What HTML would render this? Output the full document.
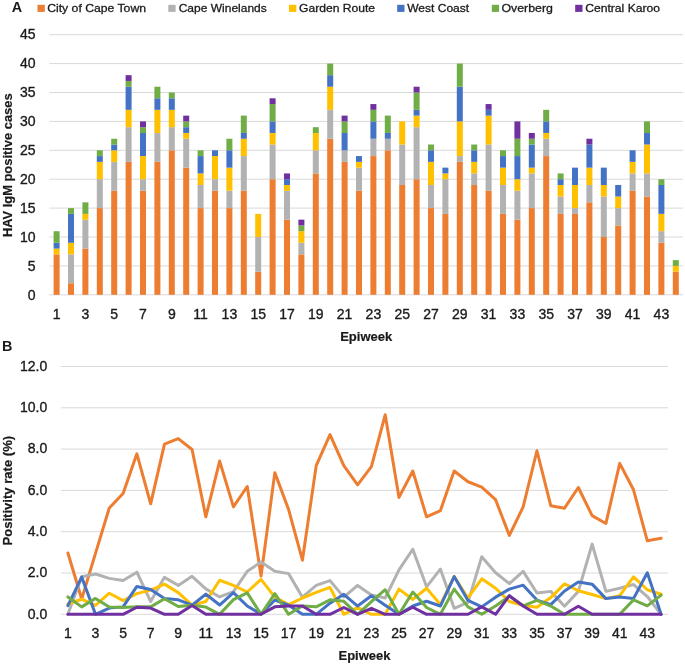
<!DOCTYPE html>
<html><head><meta charset="utf-8"><title>Chart</title><style>
html,body{margin:0;padding:0;background:#fff;}
body{width:685px;height:665px;overflow:hidden;}
svg{display:block;will-change:transform;}
text{font-family:"Liberation Sans",sans-serif;fill:#1a1a1a;}
.t{font-size:14px;stroke:#1a1a1a;stroke-width:0.35px;}
.g{font-size:11.6px;stroke:#1a1a1a;stroke-width:0.3px;}
.b{font-size:13px;font-weight:bold;stroke:#1a1a1a;stroke-width:0.2px;}
.L{font-size:14.4px;font-weight:bold;}
</style></head><body>
<svg width="685" height="665" viewBox="0 0 685 665">
<rect width="685" height="665" fill="#fff"/>
<path d="M49.40 294.80H683.00 M49.40 265.90H683.00 M49.40 237.00H683.00 M49.40 208.10H683.00 M49.40 179.20H683.00 M49.40 150.30H683.00 M49.40 121.40H683.00 M49.40 92.50H683.00 M49.40 63.60H683.00 M49.40 34.70H683.00" stroke="#D9D9D9" stroke-width="1" fill="none"/>
<rect x="53.60" y="254.34" width="6.00" height="40.46" fill="#ED7D31"/>
<rect x="53.60" y="248.56" width="6.00" height="5.78" fill="#FFC000"/>
<rect x="53.60" y="242.78" width="6.00" height="5.78" fill="#4472C4"/>
<rect x="53.60" y="231.22" width="6.00" height="11.56" fill="#70AD47"/>
<rect x="68.00" y="283.24" width="6.00" height="11.56" fill="#ED7D31"/>
<rect x="68.00" y="254.34" width="6.00" height="28.90" fill="#B2B2B2"/>
<rect x="68.00" y="242.78" width="6.00" height="11.56" fill="#FFC000"/>
<rect x="68.00" y="213.88" width="6.00" height="28.90" fill="#4472C4"/>
<rect x="68.00" y="208.10" width="6.00" height="5.78" fill="#70AD47"/>
<rect x="82.40" y="248.56" width="6.00" height="46.24" fill="#ED7D31"/>
<rect x="82.40" y="219.66" width="6.00" height="28.90" fill="#B2B2B2"/>
<rect x="82.40" y="213.88" width="6.00" height="5.78" fill="#FFC000"/>
<rect x="82.40" y="202.32" width="6.00" height="11.56" fill="#70AD47"/>
<rect x="96.80" y="208.10" width="6.00" height="86.70" fill="#ED7D31"/>
<rect x="96.80" y="179.20" width="6.00" height="28.90" fill="#B2B2B2"/>
<rect x="96.80" y="161.86" width="6.00" height="17.34" fill="#FFC000"/>
<rect x="96.80" y="156.08" width="6.00" height="5.78" fill="#4472C4"/>
<rect x="96.80" y="150.30" width="6.00" height="5.78" fill="#70AD47"/>
<rect x="111.20" y="190.76" width="6.00" height="104.04" fill="#ED7D31"/>
<rect x="111.20" y="161.86" width="6.00" height="28.90" fill="#B2B2B2"/>
<rect x="111.20" y="150.30" width="6.00" height="11.56" fill="#FFC000"/>
<rect x="111.20" y="144.52" width="6.00" height="5.78" fill="#4472C4"/>
<rect x="111.20" y="138.74" width="6.00" height="5.78" fill="#70AD47"/>
<rect x="125.60" y="161.86" width="6.00" height="132.94" fill="#ED7D31"/>
<rect x="125.60" y="127.18" width="6.00" height="34.68" fill="#B2B2B2"/>
<rect x="125.60" y="109.84" width="6.00" height="17.34" fill="#FFC000"/>
<rect x="125.60" y="86.72" width="6.00" height="23.12" fill="#4472C4"/>
<rect x="125.60" y="80.94" width="6.00" height="5.78" fill="#70AD47"/>
<rect x="125.60" y="75.16" width="6.00" height="5.78" fill="#7030A0"/>
<rect x="140.00" y="190.76" width="6.00" height="104.04" fill="#ED7D31"/>
<rect x="140.00" y="179.20" width="6.00" height="11.56" fill="#B2B2B2"/>
<rect x="140.00" y="156.08" width="6.00" height="23.12" fill="#FFC000"/>
<rect x="140.00" y="132.96" width="6.00" height="23.12" fill="#4472C4"/>
<rect x="140.00" y="127.18" width="6.00" height="5.78" fill="#70AD47"/>
<rect x="140.00" y="121.40" width="6.00" height="5.78" fill="#7030A0"/>
<rect x="154.40" y="161.86" width="6.00" height="132.94" fill="#ED7D31"/>
<rect x="154.40" y="132.96" width="6.00" height="28.90" fill="#B2B2B2"/>
<rect x="154.40" y="109.84" width="6.00" height="23.12" fill="#FFC000"/>
<rect x="154.40" y="98.28" width="6.00" height="11.56" fill="#4472C4"/>
<rect x="154.40" y="86.72" width="6.00" height="11.56" fill="#70AD47"/>
<rect x="168.80" y="150.30" width="6.00" height="144.50" fill="#ED7D31"/>
<rect x="168.80" y="127.18" width="6.00" height="23.12" fill="#B2B2B2"/>
<rect x="168.80" y="109.84" width="6.00" height="17.34" fill="#FFC000"/>
<rect x="168.80" y="98.28" width="6.00" height="11.56" fill="#4472C4"/>
<rect x="168.80" y="92.50" width="6.00" height="5.78" fill="#70AD47"/>
<rect x="183.20" y="167.64" width="6.00" height="127.16" fill="#ED7D31"/>
<rect x="183.20" y="138.74" width="6.00" height="28.90" fill="#B2B2B2"/>
<rect x="183.20" y="132.96" width="6.00" height="5.78" fill="#FFC000"/>
<rect x="183.20" y="127.18" width="6.00" height="5.78" fill="#4472C4"/>
<rect x="183.20" y="121.40" width="6.00" height="5.78" fill="#70AD47"/>
<rect x="183.20" y="115.62" width="6.00" height="5.78" fill="#7030A0"/>
<rect x="197.60" y="208.10" width="6.00" height="86.70" fill="#ED7D31"/>
<rect x="197.60" y="184.98" width="6.00" height="23.12" fill="#B2B2B2"/>
<rect x="197.60" y="173.42" width="6.00" height="11.56" fill="#FFC000"/>
<rect x="197.60" y="156.08" width="6.00" height="17.34" fill="#4472C4"/>
<rect x="197.60" y="150.30" width="6.00" height="5.78" fill="#70AD47"/>
<rect x="212.00" y="190.76" width="6.00" height="104.04" fill="#ED7D31"/>
<rect x="212.00" y="179.20" width="6.00" height="11.56" fill="#B2B2B2"/>
<rect x="212.00" y="156.08" width="6.00" height="23.12" fill="#FFC000"/>
<rect x="212.00" y="150.30" width="6.00" height="5.78" fill="#4472C4"/>
<rect x="226.40" y="208.10" width="6.00" height="86.70" fill="#ED7D31"/>
<rect x="226.40" y="190.76" width="6.00" height="17.34" fill="#B2B2B2"/>
<rect x="226.40" y="167.64" width="6.00" height="23.12" fill="#FFC000"/>
<rect x="226.40" y="150.30" width="6.00" height="17.34" fill="#4472C4"/>
<rect x="226.40" y="138.74" width="6.00" height="11.56" fill="#70AD47"/>
<rect x="240.80" y="190.76" width="6.00" height="104.04" fill="#ED7D31"/>
<rect x="240.80" y="156.08" width="6.00" height="34.68" fill="#B2B2B2"/>
<rect x="240.80" y="138.74" width="6.00" height="17.34" fill="#FFC000"/>
<rect x="240.80" y="132.96" width="6.00" height="5.78" fill="#4472C4"/>
<rect x="240.80" y="115.62" width="6.00" height="17.34" fill="#70AD47"/>
<rect x="255.20" y="271.68" width="6.00" height="23.12" fill="#ED7D31"/>
<rect x="255.20" y="237.00" width="6.00" height="34.68" fill="#B2B2B2"/>
<rect x="255.20" y="213.88" width="6.00" height="23.12" fill="#FFC000"/>
<rect x="269.60" y="179.20" width="6.00" height="115.60" fill="#ED7D31"/>
<rect x="269.60" y="144.52" width="6.00" height="34.68" fill="#B2B2B2"/>
<rect x="269.60" y="132.96" width="6.00" height="11.56" fill="#FFC000"/>
<rect x="269.60" y="121.40" width="6.00" height="11.56" fill="#4472C4"/>
<rect x="269.60" y="104.06" width="6.00" height="17.34" fill="#70AD47"/>
<rect x="269.60" y="98.28" width="6.00" height="5.78" fill="#7030A0"/>
<rect x="284.00" y="219.66" width="6.00" height="75.14" fill="#ED7D31"/>
<rect x="284.00" y="190.76" width="6.00" height="28.90" fill="#B2B2B2"/>
<rect x="284.00" y="184.98" width="6.00" height="5.78" fill="#FFC000"/>
<rect x="284.00" y="179.20" width="6.00" height="5.78" fill="#4472C4"/>
<rect x="284.00" y="173.42" width="6.00" height="5.78" fill="#7030A0"/>
<rect x="298.40" y="254.34" width="6.00" height="40.46" fill="#ED7D31"/>
<rect x="298.40" y="242.78" width="6.00" height="11.56" fill="#B2B2B2"/>
<rect x="298.40" y="231.22" width="6.00" height="11.56" fill="#FFC000"/>
<rect x="298.40" y="225.44" width="6.00" height="5.78" fill="#70AD47"/>
<rect x="298.40" y="219.66" width="6.00" height="5.78" fill="#7030A0"/>
<rect x="312.80" y="173.42" width="6.00" height="121.38" fill="#ED7D31"/>
<rect x="312.80" y="150.30" width="6.00" height="23.12" fill="#B2B2B2"/>
<rect x="312.80" y="132.96" width="6.00" height="17.34" fill="#FFC000"/>
<rect x="312.80" y="127.18" width="6.00" height="5.78" fill="#70AD47"/>
<rect x="327.20" y="138.74" width="6.00" height="156.06" fill="#ED7D31"/>
<rect x="327.20" y="109.84" width="6.00" height="28.90" fill="#B2B2B2"/>
<rect x="327.20" y="86.72" width="6.00" height="23.12" fill="#FFC000"/>
<rect x="327.20" y="75.16" width="6.00" height="11.56" fill="#4472C4"/>
<rect x="327.20" y="63.60" width="6.00" height="11.56" fill="#70AD47"/>
<rect x="341.60" y="161.86" width="6.00" height="132.94" fill="#ED7D31"/>
<rect x="341.60" y="150.30" width="6.00" height="11.56" fill="#B2B2B2"/>
<rect x="341.60" y="132.96" width="6.00" height="17.34" fill="#4472C4"/>
<rect x="341.60" y="121.40" width="6.00" height="11.56" fill="#70AD47"/>
<rect x="341.60" y="115.62" width="6.00" height="5.78" fill="#7030A0"/>
<rect x="356.00" y="190.76" width="6.00" height="104.04" fill="#ED7D31"/>
<rect x="356.00" y="167.64" width="6.00" height="23.12" fill="#B2B2B2"/>
<rect x="356.00" y="161.86" width="6.00" height="5.78" fill="#FFC000"/>
<rect x="356.00" y="156.08" width="6.00" height="5.78" fill="#4472C4"/>
<rect x="370.40" y="156.08" width="6.00" height="138.72" fill="#ED7D31"/>
<rect x="370.40" y="138.74" width="6.00" height="17.34" fill="#B2B2B2"/>
<rect x="370.40" y="121.40" width="6.00" height="17.34" fill="#4472C4"/>
<rect x="370.40" y="109.84" width="6.00" height="11.56" fill="#70AD47"/>
<rect x="370.40" y="104.06" width="6.00" height="5.78" fill="#7030A0"/>
<rect x="384.80" y="150.30" width="6.00" height="144.50" fill="#ED7D31"/>
<rect x="384.80" y="138.74" width="6.00" height="11.56" fill="#B2B2B2"/>
<rect x="384.80" y="132.96" width="6.00" height="5.78" fill="#4472C4"/>
<rect x="384.80" y="115.62" width="6.00" height="17.34" fill="#70AD47"/>
<rect x="399.20" y="184.98" width="6.00" height="109.82" fill="#ED7D31"/>
<rect x="399.20" y="144.52" width="6.00" height="40.46" fill="#B2B2B2"/>
<rect x="399.20" y="121.40" width="6.00" height="23.12" fill="#FFC000"/>
<rect x="413.60" y="179.20" width="6.00" height="115.60" fill="#ED7D31"/>
<rect x="413.60" y="127.18" width="6.00" height="52.02" fill="#B2B2B2"/>
<rect x="413.60" y="115.62" width="6.00" height="11.56" fill="#FFC000"/>
<rect x="413.60" y="109.84" width="6.00" height="5.78" fill="#4472C4"/>
<rect x="413.60" y="92.50" width="6.00" height="17.34" fill="#70AD47"/>
<rect x="413.60" y="86.72" width="6.00" height="5.78" fill="#7030A0"/>
<rect x="428.00" y="208.10" width="6.00" height="86.70" fill="#ED7D31"/>
<rect x="428.00" y="184.98" width="6.00" height="23.12" fill="#B2B2B2"/>
<rect x="428.00" y="161.86" width="6.00" height="23.12" fill="#FFC000"/>
<rect x="428.00" y="150.30" width="6.00" height="11.56" fill="#4472C4"/>
<rect x="428.00" y="144.52" width="6.00" height="5.78" fill="#70AD47"/>
<rect x="442.40" y="213.88" width="6.00" height="80.92" fill="#ED7D31"/>
<rect x="442.40" y="179.20" width="6.00" height="34.68" fill="#B2B2B2"/>
<rect x="442.40" y="173.42" width="6.00" height="5.78" fill="#FFC000"/>
<rect x="442.40" y="167.64" width="6.00" height="5.78" fill="#4472C4"/>
<rect x="456.80" y="161.86" width="6.00" height="132.94" fill="#ED7D31"/>
<rect x="456.80" y="156.08" width="6.00" height="5.78" fill="#B2B2B2"/>
<rect x="456.80" y="121.40" width="6.00" height="34.68" fill="#FFC000"/>
<rect x="456.80" y="86.72" width="6.00" height="34.68" fill="#4472C4"/>
<rect x="456.80" y="63.60" width="6.00" height="23.12" fill="#70AD47"/>
<rect x="471.20" y="184.98" width="6.00" height="109.82" fill="#ED7D31"/>
<rect x="471.20" y="173.42" width="6.00" height="11.56" fill="#B2B2B2"/>
<rect x="471.20" y="161.86" width="6.00" height="11.56" fill="#FFC000"/>
<rect x="471.20" y="150.30" width="6.00" height="11.56" fill="#4472C4"/>
<rect x="471.20" y="144.52" width="6.00" height="5.78" fill="#70AD47"/>
<rect x="485.60" y="190.76" width="6.00" height="104.04" fill="#ED7D31"/>
<rect x="485.60" y="144.52" width="6.00" height="46.24" fill="#B2B2B2"/>
<rect x="485.60" y="115.62" width="6.00" height="28.90" fill="#FFC000"/>
<rect x="485.60" y="109.84" width="6.00" height="5.78" fill="#4472C4"/>
<rect x="485.60" y="104.06" width="6.00" height="5.78" fill="#7030A0"/>
<rect x="500.00" y="213.88" width="6.00" height="80.92" fill="#ED7D31"/>
<rect x="500.00" y="184.98" width="6.00" height="28.90" fill="#B2B2B2"/>
<rect x="500.00" y="167.64" width="6.00" height="17.34" fill="#FFC000"/>
<rect x="500.00" y="156.08" width="6.00" height="11.56" fill="#4472C4"/>
<rect x="500.00" y="150.30" width="6.00" height="5.78" fill="#70AD47"/>
<rect x="514.40" y="219.66" width="6.00" height="75.14" fill="#ED7D31"/>
<rect x="514.40" y="190.76" width="6.00" height="28.90" fill="#B2B2B2"/>
<rect x="514.40" y="179.20" width="6.00" height="11.56" fill="#FFC000"/>
<rect x="514.40" y="156.08" width="6.00" height="23.12" fill="#4472C4"/>
<rect x="514.40" y="138.74" width="6.00" height="17.34" fill="#70AD47"/>
<rect x="514.40" y="121.40" width="6.00" height="17.34" fill="#7030A0"/>
<rect x="528.80" y="208.10" width="6.00" height="86.70" fill="#ED7D31"/>
<rect x="528.80" y="173.42" width="6.00" height="34.68" fill="#B2B2B2"/>
<rect x="528.80" y="167.64" width="6.00" height="5.78" fill="#FFC000"/>
<rect x="528.80" y="144.52" width="6.00" height="23.12" fill="#4472C4"/>
<rect x="528.80" y="138.74" width="6.00" height="5.78" fill="#70AD47"/>
<rect x="528.80" y="132.96" width="6.00" height="5.78" fill="#7030A0"/>
<rect x="543.20" y="156.08" width="6.00" height="138.72" fill="#ED7D31"/>
<rect x="543.20" y="138.74" width="6.00" height="17.34" fill="#B2B2B2"/>
<rect x="543.20" y="132.96" width="6.00" height="5.78" fill="#FFC000"/>
<rect x="543.20" y="121.40" width="6.00" height="11.56" fill="#4472C4"/>
<rect x="543.20" y="109.84" width="6.00" height="11.56" fill="#70AD47"/>
<rect x="557.60" y="213.88" width="6.00" height="80.92" fill="#ED7D31"/>
<rect x="557.60" y="196.54" width="6.00" height="17.34" fill="#B2B2B2"/>
<rect x="557.60" y="184.98" width="6.00" height="11.56" fill="#FFC000"/>
<rect x="557.60" y="179.20" width="6.00" height="5.78" fill="#4472C4"/>
<rect x="557.60" y="173.42" width="6.00" height="5.78" fill="#70AD47"/>
<rect x="572.00" y="213.88" width="6.00" height="80.92" fill="#ED7D31"/>
<rect x="572.00" y="208.10" width="6.00" height="5.78" fill="#B2B2B2"/>
<rect x="572.00" y="184.98" width="6.00" height="23.12" fill="#FFC000"/>
<rect x="572.00" y="167.64" width="6.00" height="17.34" fill="#4472C4"/>
<rect x="586.40" y="202.32" width="6.00" height="92.48" fill="#ED7D31"/>
<rect x="586.40" y="184.98" width="6.00" height="17.34" fill="#B2B2B2"/>
<rect x="586.40" y="167.64" width="6.00" height="17.34" fill="#FFC000"/>
<rect x="586.40" y="144.52" width="6.00" height="23.12" fill="#4472C4"/>
<rect x="586.40" y="138.74" width="6.00" height="5.78" fill="#7030A0"/>
<rect x="600.80" y="237.00" width="6.00" height="57.80" fill="#ED7D31"/>
<rect x="600.80" y="196.54" width="6.00" height="40.46" fill="#B2B2B2"/>
<rect x="600.80" y="184.98" width="6.00" height="11.56" fill="#FFC000"/>
<rect x="600.80" y="167.64" width="6.00" height="17.34" fill="#4472C4"/>
<rect x="615.20" y="225.44" width="6.00" height="69.36" fill="#ED7D31"/>
<rect x="615.20" y="208.10" width="6.00" height="17.34" fill="#B2B2B2"/>
<rect x="615.20" y="196.54" width="6.00" height="11.56" fill="#FFC000"/>
<rect x="615.20" y="184.98" width="6.00" height="11.56" fill="#4472C4"/>
<rect x="629.60" y="190.76" width="6.00" height="104.04" fill="#ED7D31"/>
<rect x="629.60" y="173.42" width="6.00" height="17.34" fill="#B2B2B2"/>
<rect x="629.60" y="161.86" width="6.00" height="11.56" fill="#FFC000"/>
<rect x="629.60" y="150.30" width="6.00" height="11.56" fill="#4472C4"/>
<rect x="644.00" y="196.54" width="6.00" height="98.26" fill="#ED7D31"/>
<rect x="644.00" y="173.42" width="6.00" height="23.12" fill="#B2B2B2"/>
<rect x="644.00" y="144.52" width="6.00" height="28.90" fill="#FFC000"/>
<rect x="644.00" y="132.96" width="6.00" height="11.56" fill="#4472C4"/>
<rect x="644.00" y="121.40" width="6.00" height="11.56" fill="#70AD47"/>
<rect x="658.40" y="242.78" width="6.00" height="52.02" fill="#ED7D31"/>
<rect x="658.40" y="231.22" width="6.00" height="11.56" fill="#B2B2B2"/>
<rect x="658.40" y="213.88" width="6.00" height="17.34" fill="#FFC000"/>
<rect x="658.40" y="184.98" width="6.00" height="28.90" fill="#4472C4"/>
<rect x="658.40" y="179.20" width="6.00" height="5.78" fill="#70AD47"/>
<rect x="672.80" y="271.68" width="6.00" height="23.12" fill="#ED7D31"/>
<rect x="672.80" y="265.90" width="6.00" height="5.78" fill="#FFC000"/>
<rect x="672.80" y="260.12" width="6.00" height="5.78" fill="#70AD47"/>
<text class="t" x="35.5" y="299.51" text-anchor="end">0</text>
<text class="t" x="35.5" y="270.61" text-anchor="end">5</text>
<text class="t" x="35.5" y="241.71" text-anchor="end">10</text>
<text class="t" x="35.5" y="212.81" text-anchor="end">15</text>
<text class="t" x="35.5" y="183.91" text-anchor="end">20</text>
<text class="t" x="35.5" y="155.01" text-anchor="end">25</text>
<text class="t" x="35.5" y="126.11" text-anchor="end">30</text>
<text class="t" x="35.5" y="97.21" text-anchor="end">35</text>
<text class="t" x="35.5" y="68.31" text-anchor="end">40</text>
<text class="t" x="35.5" y="39.41" text-anchor="end">45</text>
<text class="t" x="56.60" y="319.11" text-anchor="middle">1</text>
<text class="t" x="85.40" y="319.11" text-anchor="middle">3</text>
<text class="t" x="114.20" y="319.11" text-anchor="middle">5</text>
<text class="t" x="143.00" y="319.11" text-anchor="middle">7</text>
<text class="t" x="171.80" y="319.11" text-anchor="middle">9</text>
<text class="t" x="200.60" y="319.11" text-anchor="middle">11</text>
<text class="t" x="229.40" y="319.11" text-anchor="middle">13</text>
<text class="t" x="258.20" y="319.11" text-anchor="middle">15</text>
<text class="t" x="287.00" y="319.11" text-anchor="middle">17</text>
<text class="t" x="315.80" y="319.11" text-anchor="middle">19</text>
<text class="t" x="344.60" y="319.11" text-anchor="middle">21</text>
<text class="t" x="373.40" y="319.11" text-anchor="middle">23</text>
<text class="t" x="402.20" y="319.11" text-anchor="middle">25</text>
<text class="t" x="431.00" y="319.11" text-anchor="middle">27</text>
<text class="t" x="459.80" y="319.11" text-anchor="middle">29</text>
<text class="t" x="488.60" y="319.11" text-anchor="middle">31</text>
<text class="t" x="517.40" y="319.11" text-anchor="middle">33</text>
<text class="t" x="546.20" y="319.11" text-anchor="middle">35</text>
<text class="t" x="575.00" y="319.11" text-anchor="middle">37</text>
<text class="t" x="603.80" y="319.11" text-anchor="middle">39</text>
<text class="t" x="632.60" y="319.11" text-anchor="middle">41</text>
<text class="t" x="661.40" y="319.11" text-anchor="middle">43</text>
<path d="M61.00 614.30H668.00 M61.00 573.00H668.00 M61.00 531.70H668.00 M61.00 490.40H668.00 M61.00 449.10H668.00 M61.00 407.80H668.00 M61.00 366.50H668.00" stroke="#D9D9D9" stroke-width="1" fill="none"/>
<polyline points="67.90,552.97 81.69,599.02 95.49,553.38 109.28,507.95 123.08,493.50 136.88,453.85 150.67,503.82 164.47,444.14 178.26,438.57 192.06,449.51 205.85,516.83 219.65,461.08 233.44,506.92 247.24,486.48 261.03,576.10 274.83,472.64 288.62,509.60 302.42,560.20 316.22,465.62 330.01,434.64 343.81,465.62 357.60,484.82 371.40,466.65 385.19,414.82 398.99,497.42 412.78,470.99 426.58,516.83 440.38,510.64 454.17,470.99 467.97,481.73 481.76,487.10 495.56,499.69 509.35,535.42 523.15,506.92 536.94,450.75 550.74,505.68 564.53,508.16 578.33,487.51 592.12,515.59 605.92,523.44 619.72,463.35 633.51,489.78 647.31,540.79 661.10,538.31" fill="none" stroke="#ED7D31" stroke-width="3.0" stroke-linejoin="round" stroke-linecap="round"/>
<polyline points="67.90,614.30 81.69,576.72 95.49,574.03 109.28,578.37 123.08,580.43 136.88,572.17 150.67,601.50 164.47,577.34 178.26,585.39 192.06,576.30 205.85,588.90 219.65,596.95 233.44,591.58 247.24,571.35 261.03,562.06 274.83,571.35 288.62,573.62 302.42,597.16 316.22,585.39 330.01,580.64 343.81,597.16 357.60,585.39 371.40,594.89 385.19,597.99 398.99,569.90 412.78,549.25 426.58,586.84 440.38,569.08 454.17,608.31 467.97,602.32 481.76,556.69 495.56,572.79 509.35,583.53 523.15,571.35 536.94,593.03 550.74,591.38 564.53,606.25 578.33,591.38 592.12,544.09 605.92,591.38 619.72,588.28 633.51,584.56 647.31,596.54 661.10,614.30" fill="none" stroke="#B2B2B2" stroke-width="3.0" stroke-linejoin="round" stroke-linecap="round"/>
<polyline points="67.90,603.97 81.69,599.23 95.49,605.42 109.28,593.24 123.08,600.67 136.88,593.65 150.67,590.14 164.47,584.15 178.26,592.62 192.06,605.21 205.85,601.50 219.65,580.23 233.44,585.39 247.24,592.00 261.03,579.40 274.83,597.16 288.62,604.59 302.42,597.99 316.22,592.41 330.01,587.45 343.81,614.30 357.60,607.49 371.40,614.30 385.19,614.30 398.99,589.11 412.78,599.43 426.58,588.28 440.38,604.59 454.17,576.51 467.97,597.99 481.76,578.78 495.56,588.28 509.35,601.50 523.15,605.21 536.94,607.28 550.74,597.57 564.53,583.94 578.33,590.76 592.12,594.48 605.92,598.61 619.72,595.71 633.51,576.92 647.31,589.73 661.10,594.27" fill="none" stroke="#FFC000" stroke-width="3.0" stroke-linejoin="round" stroke-linecap="round"/>
<polyline points="67.90,605.63 81.69,577.13 95.49,614.30 109.28,608.10 123.08,606.87 136.88,586.42 150.67,589.52 164.47,598.40 178.26,599.84 192.06,605.21 205.85,594.06 219.65,605.01 233.44,592.62 247.24,606.04 261.03,614.30 274.83,600.05 288.62,605.21 302.42,614.30 316.22,614.30 330.01,603.15 343.81,594.27 357.60,606.04 371.40,595.71 385.19,605.21 398.99,614.30 412.78,606.04 426.58,601.29 440.38,606.04 454.17,576.51 467.97,600.46 481.76,606.87 495.56,597.16 509.35,589.11 523.15,585.18 536.94,600.05 550.74,604.59 564.53,590.97 578.33,582.09 592.12,584.15 605.92,598.61 619.72,596.95 633.51,598.61 647.31,572.79 661.10,614.30" fill="none" stroke="#4472C4" stroke-width="3.0" stroke-linejoin="round" stroke-linecap="round"/>
<polyline points="67.90,596.95 81.69,606.87 95.49,598.40 109.28,607.07 123.08,607.49 136.88,606.87 150.67,606.87 164.47,598.81 178.26,606.45 192.06,605.21 205.85,607.07 219.65,614.30 233.44,599.64 247.24,592.82 261.03,614.30 274.83,593.65 288.62,614.30 302.42,606.04 316.22,606.87 330.01,599.84 343.81,601.29 357.60,614.30 371.40,601.70 385.19,589.73 398.99,614.30 412.78,592.00 426.58,607.49 440.38,614.30 454.17,589.11 467.97,606.87 481.76,614.30 495.56,606.04 509.35,596.13 523.15,605.83 536.94,600.46 550.74,606.04 564.53,614.30 578.33,614.30 592.12,614.30 605.92,614.30 619.72,614.30 633.51,599.84 647.31,605.83 661.10,595.10" fill="none" stroke="#70AD47" stroke-width="3.0" stroke-linejoin="round" stroke-linecap="round"/>
<polyline points="67.90,614.30 81.69,614.30 95.49,614.30 109.28,614.30 123.08,614.30 136.88,607.28 150.67,608.10 164.47,614.30 178.26,614.30 192.06,605.42 205.85,614.30 219.65,614.30 233.44,614.30 247.24,614.30 261.03,614.30 274.83,606.87 288.62,606.04 302.42,606.04 316.22,614.30 330.01,614.30 343.81,607.49 357.60,614.30 371.40,608.31 385.19,614.30 398.99,614.30 412.78,607.28 426.58,614.30 440.38,614.30 454.17,614.30 467.97,614.30 481.76,606.87 495.56,614.30 509.35,595.71 523.15,606.04 536.94,614.30 550.74,614.30 564.53,614.30 578.33,606.25 592.12,614.30 605.92,614.30 619.72,614.30 633.51,614.30 647.31,614.30 661.10,614.30" fill="none" stroke="#7030A0" stroke-width="3.0" stroke-linejoin="round" stroke-linecap="round"/>
<text class="t" x="47.3" y="618.61" text-anchor="end">0.0</text>
<text class="t" x="47.3" y="577.31" text-anchor="end">2.0</text>
<text class="t" x="47.3" y="536.01" text-anchor="end">4.0</text>
<text class="t" x="47.3" y="494.71" text-anchor="end">6.0</text>
<text class="t" x="47.3" y="453.41" text-anchor="end">8.0</text>
<text class="t" x="47.3" y="412.11" text-anchor="end">10.0</text>
<text class="t" x="47.3" y="370.81" text-anchor="end">12.0</text>
<text class="t" x="67.90" y="638.41" text-anchor="middle">1</text>
<text class="t" x="95.49" y="638.41" text-anchor="middle">3</text>
<text class="t" x="123.08" y="638.41" text-anchor="middle">5</text>
<text class="t" x="150.67" y="638.41" text-anchor="middle">7</text>
<text class="t" x="178.26" y="638.41" text-anchor="middle">9</text>
<text class="t" x="205.85" y="638.41" text-anchor="middle">11</text>
<text class="t" x="233.44" y="638.41" text-anchor="middle">13</text>
<text class="t" x="261.03" y="638.41" text-anchor="middle">15</text>
<text class="t" x="288.62" y="638.41" text-anchor="middle">17</text>
<text class="t" x="316.22" y="638.41" text-anchor="middle">19</text>
<text class="t" x="343.81" y="638.41" text-anchor="middle">21</text>
<text class="t" x="371.40" y="638.41" text-anchor="middle">23</text>
<text class="t" x="398.99" y="638.41" text-anchor="middle">25</text>
<text class="t" x="426.58" y="638.41" text-anchor="middle">27</text>
<text class="t" x="454.17" y="638.41" text-anchor="middle">29</text>
<text class="t" x="481.76" y="638.41" text-anchor="middle">31</text>
<text class="t" x="509.35" y="638.41" text-anchor="middle">33</text>
<text class="t" x="536.94" y="638.41" text-anchor="middle">35</text>
<text class="t" x="564.53" y="638.41" text-anchor="middle">37</text>
<text class="t" x="592.12" y="638.41" text-anchor="middle">39</text>
<text class="t" x="619.72" y="638.41" text-anchor="middle">41</text>
<text class="t" x="647.31" y="638.41" text-anchor="middle">43</text>
<text class="b" x="366.2" y="340.6" text-anchor="middle">Epiweek</text>
<text class="b" x="364.5" y="659.7" text-anchor="middle">Epiweek</text>
<text class="b" transform="translate(12.2 165.25) rotate(-90)" text-anchor="middle" textLength="143.6" lengthAdjust="spacingAndGlyphs">HAV IgM positive cases</text>
<text class="b" transform="translate(12.1 490.7) rotate(-90)" text-anchor="middle" textLength="109.7" lengthAdjust="spacingAndGlyphs">Positivity rate (%)</text>
<text class="L" x="11.7" y="12.1">A</text>
<text class="L" x="2.0" y="350.7">B</text>
<rect x="37.5" y="4.8" width="7.3" height="7.1" fill="#ED7D31"/>
<text class="g" x="47.20" y="11.7" textLength="98.80" lengthAdjust="spacingAndGlyphs">City of Cape Town</text>
<rect x="168.3" y="4.8" width="7.3" height="7.1" fill="#B2B2B2"/>
<text class="g" x="178.70" y="11.7" textLength="88.10" lengthAdjust="spacingAndGlyphs">Cape Winelands</text>
<rect x="289.0" y="4.8" width="7.3" height="7.1" fill="#FFC000"/>
<text class="g" x="299.00" y="11.7" textLength="76.10" lengthAdjust="spacingAndGlyphs">Garden Route</text>
<rect x="397.2" y="4.8" width="7.3" height="7.1" fill="#4472C4"/>
<text class="g" x="407.20" y="11.7" textLength="62.00" lengthAdjust="spacingAndGlyphs">West Coast</text>
<rect x="491.8" y="4.8" width="7.3" height="7.1" fill="#70AD47"/>
<text class="g" x="501.50" y="11.7" textLength="51.40" lengthAdjust="spacingAndGlyphs">Overberg</text>
<rect x="575.2" y="4.8" width="7.3" height="7.1" fill="#7030A0"/>
<text class="g" x="585.20" y="11.7" textLength="74.90" lengthAdjust="spacingAndGlyphs">Central Karoo</text>
</svg>
</body></html>
